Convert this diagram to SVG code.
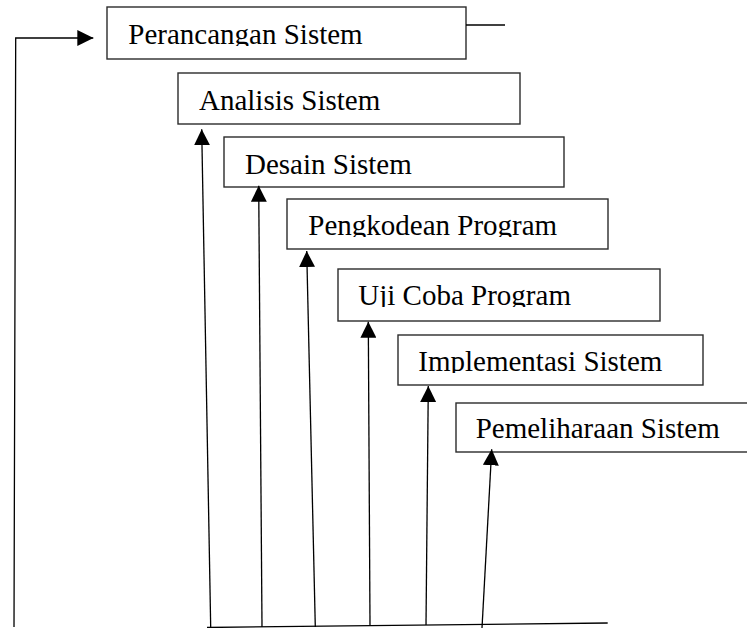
<svg xmlns="http://www.w3.org/2000/svg" width="747" height="628" viewBox="0 0 747 628">
<style>
.box{fill:#fff;stroke:#2b2b2b;stroke-width:1.4}
.lbl{font-family:"Liberation Serif",Tinos,"Times New Roman",Times,"Nimbus Roman","Noto Serif",serif;font-size:29px;fill:#000}
.ln{fill:none;stroke:#000;stroke-width:1.3}
</style>
<defs>
<marker id="ah" markerUnits="userSpaceOnUse" markerWidth="16" markerHeight="16" refX="15" refY="7.5" orient="auto" viewBox="0 0 15 15">
<path d="M0,0 L15,7.5 L0,15 z" fill="#000"/>
</marker>
<clipPath id="c1"><rect x="107" y="7" width="359" height="39"/></clipPath>
<clipPath id="c2"><rect x="178" y="73" width="342" height="39"/></clipPath>
<clipPath id="c3"><rect x="224" y="137" width="340" height="39"/></clipPath>
<clipPath id="c4"><rect x="287" y="199" width="321" height="38"/></clipPath>
<clipPath id="c5"><rect x="338" y="269" width="322" height="38"/></clipPath>
<clipPath id="c6"><rect x="398" y="335" width="305" height="38"/></clipPath>
<clipPath id="c7"><rect x="456" y="403" width="300" height="37"/></clipPath>
</defs>
<rect width="747" height="628" fill="#fff"/>
<g id="n1">
<rect class="box" x="107" y="7" width="359" height="52"/>
<text class="lbl" x="128.3" y="44" clip-path="url(#c1)">Perancangan Sistem</text>
</g>
<g id="n2">
<rect class="box" x="178" y="73" width="342" height="51"/>
<text class="lbl" x="199" y="110" clip-path="url(#c2)">Analisis Sistem</text>
</g>
<g id="n3">
<rect class="box" x="224" y="137" width="340" height="50"/>
<text class="lbl" x="245" y="174" clip-path="url(#c3)">Desain Sistem</text>
</g>
<g id="n4">
<rect class="box" x="287" y="199" width="321" height="50"/>
<text class="lbl" x="308.3" y="235" clip-path="url(#c4)">Pengkodean Program</text>
</g>
<g id="n5">
<rect class="box" x="338" y="269" width="322" height="52"/>
<text class="lbl" x="358.3" y="305" clip-path="url(#c5)">Uji Coba Program</text>
</g>
<g id="n6">
<rect class="box" x="398" y="335" width="305" height="50"/>
<text class="lbl" x="418.3" y="371" clip-path="url(#c6)">Implementasi Sistem</text>
</g>
<g id="n7">
<rect class="box" x="456" y="403" width="300" height="49"/>
<text class="lbl" x="475.7" y="438" clip-path="url(#c7)">Pemeliharaan Sistem</text>
</g>
<g id="connectors">
<line class="ln" x1="466" y1="25" x2="505" y2="25"/>
<polyline class="ln" points="14,627 15.7,38 93.3,38" marker-end="url(#ah)"/>
<line class="ln" x1="210.7" y1="627" x2="201.7" y2="129.3" marker-end="url(#ah)"/>
<line class="ln" x1="262" y1="627" x2="258.7" y2="185.7" marker-end="url(#ah)"/>
<line class="ln" x1="315.3" y1="627" x2="306.7" y2="251" marker-end="url(#ah)"/>
<line class="ln" x1="370" y1="625" x2="368.3" y2="321.7" marker-end="url(#ah)"/>
<line class="ln" x1="426" y1="625" x2="428.3" y2="386" marker-end="url(#ah)"/>
<line class="ln" x1="482" y1="628" x2="491.7" y2="449.3" marker-end="url(#ah)"/>
<line class="ln" x1="207" y1="627.5" x2="607.7" y2="623"/>
</g>
</svg>
